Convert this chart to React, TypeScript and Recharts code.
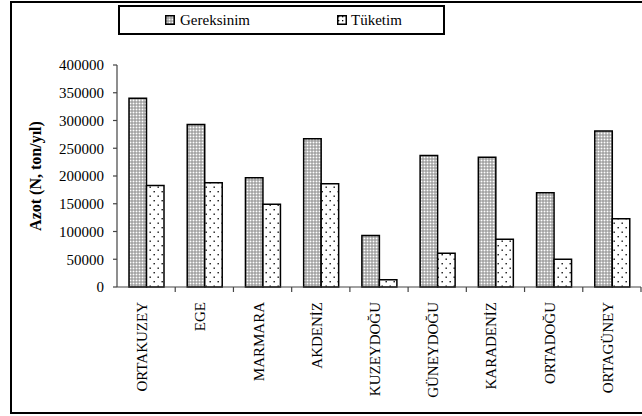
import React from "react";
import { BarChart, Bar, XAxis, YAxis, Legend, Label } from "recharts";

// Bölgeler ve azot değerleri (N, ton/yıl)
const regions = [
  "ORTAKUZEY",
  "EGE",
  "MARMARA",
  "AKDENİZ",
  "KUZEYDOĞU",
  "GÜNEYDOĞU",
  "KARADENİZ",
  "ORTADOĞU",
  "ORTAGÜNEY",
];
const gereksinim = [340000, 293000, 197000, 267000, 93000, 237000, 234000, 170000, 281000];
const tuketim = [183000, 188000, 149000, 186000, 13000, 61000, 86000, 50000, 123000];
const yTicks = [0, 50000, 100000, 150000, 200000, 250000, 300000, 350000, 400000];

const data = regions.map((name, i) => ({
  name,
  Gereksinim: gereksinim[i],
  Tüketim: tuketim[i],
}));

const FONT =
  "'Liberation Serif', 'Times New Roman', Times, 'Nimbus Roman', 'Nimbus Roman No9 L', 'FreeSerif', 'Noto Serif', 'DejaVu Serif', serif";
const X_TICK_SIZE = 5;
const X_TICK_MARGIN = 10;

// Category label, rotated, plus a tick mark at the category boundary
const CategoryTick = (props: any) => {
  const { x, y, payload, index, visibleTicksCount, width } = props;
  const half =
    payload && payload.offset ? payload.offset : width / (2 * (visibleTicksCount || regions.length));
  const axisY = y - X_TICK_SIZE - X_TICK_MARGIN;
  const left = x - half;
  const right = x + half;
  return (
    <g>
      {index > 0 && (
        <line x1={left} y1={axisY} x2={left} y2={axisY + X_TICK_SIZE} stroke="#444" strokeWidth={1.2} />
      )}
      {index === regions.length - 1 && (
        <line x1={right} y1={axisY} x2={right} y2={axisY + X_TICK_SIZE} stroke="#444" strokeWidth={1.2} />
      )}
      <text
        x={x + 1}
        y={y}
        transform={`rotate(-90, ${x + 1}, ${y})`}
        textAnchor="end"
        fontFamily={FONT}
        fontSize={15}
        fill="#000"
      >
        {payload.value}
      </text>
    </g>
  );
};

const LegendIcon = ({ kind }: { kind: "g" | "t" }) => (
  <svg width={10} height={10} style={{ display: "block" }}>
    <defs>
      <pattern id={`legend-${kind}`} patternUnits="userSpaceOnUse" width={kind === "g" ? 3 : 4} height={kind === "g" ? 3 : 4}>
        {kind === "g" ? (
          <>
            <rect width={3} height={3} fill="#8a8a8a" />
            <rect x={0.5} y={0.5} width={2} height={2} fill="#fff" />
          </>
        ) : (
          <>
            <rect width={4} height={4} fill="#fff" />
            <rect x={1} y={1} width={1.3} height={1.3} fill="#000" />
          </>
        )}
      </pattern>
    </defs>
    <rect x={0.75} y={0.75} width={8.5} height={8.5} fill={`url(#legend-${kind})`} stroke="#000" strokeWidth={1.5} />
  </svg>
);

const LegendBox = () => (
  <div
    style={{
      boxSizing: "border-box",
      width: 327,
      height: 30,
      border: "2px solid #000",
      display: "flex",
      alignItems: "center",
      fontFamily: FONT,
      fontSize: 15,
      color: "#000",
    }}
  >
    <div style={{ display: "flex", alignItems: "center", marginLeft: 45 }}>
      <LegendIcon kind="g" />
      <span style={{ marginLeft: 5 }}>Gereksinim</span>
    </div>
    <div style={{ display: "flex", alignItems: "center", marginLeft: 87 }}>
      <LegendIcon kind="t" />
      <span style={{ marginLeft: 4 }}>Tüketim</span>
    </div>
  </div>
);

export default function App() {
  return (
    <div
      style={{
        position: "absolute",
        left: 0,
        top: 0,
        width: 642,
        height: 416,
        overflow: "hidden",
        background: "#fff",
        fontFamily: FONT,
      }}
    >
      <div
        style={{
          position: "absolute",
          left: 10,
          top: 1,
          width: 640,
          height: 413,
          boxSizing: "border-box",
          border: "2px solid #000",
        }}
      />
      <BarChart
        width={642}
        height={416}
        data={data}
        margin={{ top: 65, right: 1, left: 0, bottom: 0 }}
        barGap={0}
        barSize={17.5}
      >
        <defs>
          <pattern id="patG" patternUnits="userSpaceOnUse" width={3} height={3}>
            <rect width={3} height={3} fill="#8a8a8a" />
            <rect x={0.5} y={0.5} width={2} height={2} fill="#fff" />
          </pattern>
          <pattern id="patT" patternUnits="userSpaceOnUse" width={8} height={9}>
            <rect width={8} height={9} fill="#fff" />
            <rect x={1.5} y={2} width={1.4} height={1.4} fill="#111" />
            <rect x={5.5} y={6.5} width={1.4} height={1.4} fill="#111" />
          </pattern>
        </defs>
        <Legend
          layout="horizontal"
          verticalAlign="middle"
          align="center"
          wrapperStyle={{ top: 5, left: 118, width: 327, height: 30 }}
          content={() => <LegendBox />}
        />
        <XAxis
          dataKey="name"
          height={129}
          interval={0}
          tickLine={false}
          tickSize={X_TICK_SIZE}
          tickMargin={X_TICK_MARGIN}
          axisLine={{ stroke: "#444", strokeWidth: 1.2 }}
          tick={<CategoryTick />}
        />
        <YAxis
          width={117}
          domain={[0, 400000]}
          ticks={yTicks}
          interval={0}
          tickSize={4}
          tickMargin={9}
          axisLine={{ stroke: "#444", strokeWidth: 1.2 }}
          tickLine={{ stroke: "#444", strokeWidth: 1.2 }}
          tick={{ fontSize: 15, fill: "#000", fontFamily: FONT }}
        >
          <Label
            content={(p: any) => {
              const vb = p.viewBox || { x: 0, y: 65, height: 222 };
              const cx = 41;
              const cy = vb.y + vb.height / 2;
              return (
                <text
                  x={cx}
                  y={cy}
                  transform={`rotate(-90, ${cx}, ${cy})`}
                  textAnchor="middle"
                  fontFamily={FONT}
                  fontSize={16}
                  fontWeight="bold"
                  fill="#000"
                >
                  Azot (N, ton/yıl)
                </text>
              );
            }}
          />
        </YAxis>
        <Bar dataKey="Gereksinim" fill="url(#patG)" stroke="#000" strokeWidth={1.5} isAnimationActive={false} />
        <Bar dataKey="Tüketim" fill="url(#patT)" stroke="#000" strokeWidth={1.5} isAnimationActive={false} />
      </BarChart>
    </div>
  );
}
